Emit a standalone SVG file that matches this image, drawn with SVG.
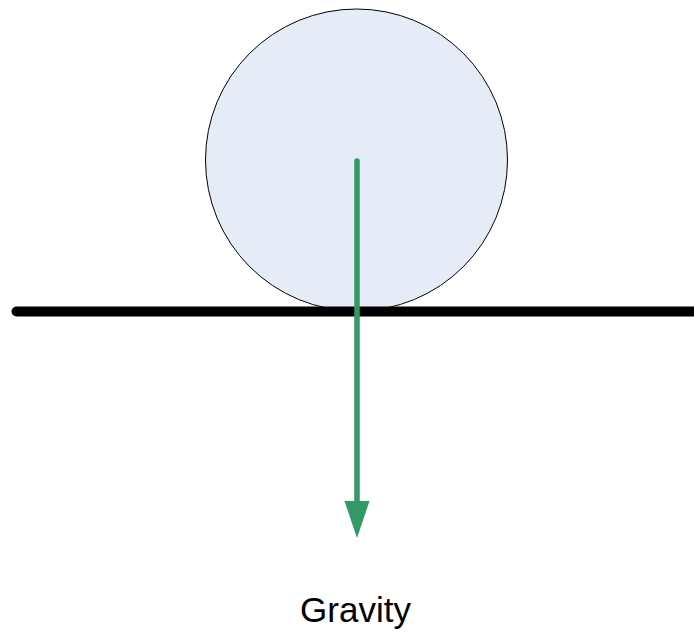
<svg xmlns="http://www.w3.org/2000/svg" width="694" height="632" viewBox="0 0 694 632">
<style>
.ground{stroke:#000;stroke-width:10;stroke-linecap:round;fill:none}
.ball{fill:#e6ecf7;stroke:#000;stroke-width:1}
.force{stroke:#339966;stroke-width:5.5;stroke-linecap:round;fill:none}
.label{font-family:"Liberation Sans",Arial,sans-serif;font-size:35px;fill:#000}
</style>
<rect width="694" height="632" fill="#fff"/>
<g id="ball"><circle class="ball" cx="356.5" cy="160" r="151"/></g>
<g id="ground"><line class="ground" x1="16.5" y1="311.5" x2="700" y2="311.5"/></g>
<g id="connectors">
<line class="force" x1="357" y1="161" x2="357" y2="503"/>
<polygon points="344.5,501 369.5,501 357,538" fill="#339966"/>
</g>
<g id="gravity-label"><text class="label" x="355.5" y="622" text-anchor="middle">Gravity</text></g>
</svg>
